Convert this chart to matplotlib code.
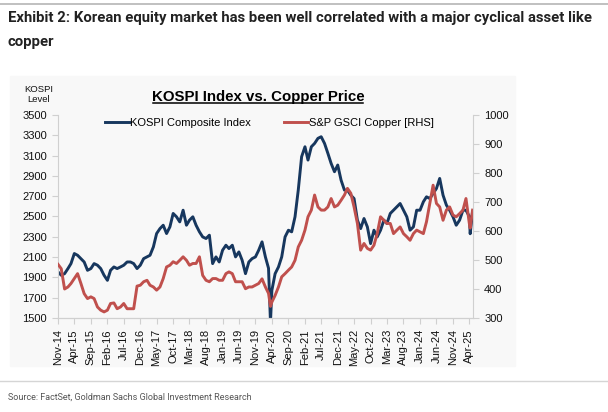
import numpy as np
import pandas as pd
import matplotlib
matplotlib.use('Agg')
import matplotlib.pyplot as plt
from matplotlib.patches import Rectangle
from matplotlib.lines import Line2D

plt.rcParams['font.family'] = ['Liberation Sans', 'DejaVu Sans']

# monthly readings (first of each month), Nov-14 .. May-25
months = pd.date_range('2014-11-01', '2025-05-01', freq='MS')
kospi = [1954, 1921,
         1937, 1987, 2036, 2135, 2118, 2085, 2052, 1970, 1987, 2036, 2020, 1987,
         1921, 1871, 1970, 2003, 1987, 2003, 2020, 2052, 2052, 2036, 1987, 2020,
         2085, 2102, 2118, 2200, 2332, 2381, 2414, 2332, 2398, 2530, 2497, 2447,
         2562, 2414, 2464, 2497, 2414, 2349, 2299, 2283, 2316, 2036, 2102, 2052,
         2168, 2217, 2184, 2217, 2102, 2151, 2069, 1937, 2052, 2085, 2102, 2168,
         2250, 2102, 1990, 1773, 1937, 2003, 2102, 2299, 2365, 2349, 2497, 2760,
         3089, 3187, 3056, 3187, 3220, 3270, 3286, 3220, 3122, 3023, 2941, 3007,
         2858, 2760, 2760, 2710, 2677, 2464, 2381, 2480, 2398, 2233, 2365, 2299,
         2365, 2464, 2431, 2530, 2562, 2595, 2628, 2562, 2497, 2365, 2398, 2562,
         2562, 2645, 2694, 2677, 2727, 2776, 2875, 2710, 2612, 2562, 2497, 2414,
         2464, 2562, 2562, 2500, 2546]
copper = [485, 470,
          400, 407, 419, 436, 453, 419, 384, 367, 373, 367, 338, 327,
          321, 327, 350, 352, 332, 338, 350, 332, 332, 332, 410, 413,
          425, 430, 413, 407, 396, 407, 436, 476, 482, 494, 488, 499,
          511, 499, 482, 488, 488, 511, 447, 430, 425, 436, 436, 430,
          430, 453, 459, 453, 425, 425, 425, 401, 407, 407, 413, 419,
          435, 407, 385, 355, 378, 407, 442, 453, 465, 476, 499, 545,
          568, 603, 649, 672, 724, 683, 672, 672, 683, 712, 683, 689,
          706, 724, 747, 730, 683, 626, 534, 557, 540, 534, 551, 591,
          649, 637, 626, 626, 591, 603, 614, 591, 580, 568, 591, 603,
          597, 591, 632, 695, 758, 695, 683, 637, 672, 683, 655, 649,
          660, 672, 712, 626, 672]

# sharp intra-month moves
extra_dates = pd.to_datetime(['2020-03-19', '2025-04-09'])
extra_kospi = [1457, 2330]
extra_copper = [340, 610]

tick_dates = pd.date_range('2014-11-01', '2025-04-01', freq='5MS')
tick_labels = [d.strftime('%b-%y') for d in tick_dates]

kospi_s = pd.concat([pd.Series(kospi, index=months),
                     pd.Series(extra_kospi, index=extra_dates)]).sort_index()
copper_s = pd.concat([pd.Series(copper, index=months),
                      pd.Series(extra_copper, index=extra_dates)]).sort_index()

blue = '#17375E'
red = '#C0504D'
grid_grey = '#d0d0d0'
W, H = 608, 412

fig = plt.figure(figsize=(W / 100, H / 100), dpi=100)
fig.patches.append(Rectangle((10 / W, 1 - 366 / H), 505 / W, 290 / H,
                             transform=fig.transFigure, color='#f8f8f8', zorder=-10))
fig.add_artist(Line2D([0, 1], [1 - 4 / H] * 2, color='#b5b5b5', lw=1.2))
fig.add_artist(Line2D([0, 1], [1 - 381 / H] * 2, color='#d5d5d5', lw=1.0))

head = ['Roboto', 'Liberation Sans', 'DejaVu Sans']
fig.text(8 / W, 1 - 18 / H,
         'Exhibit 2: Korean equity market has been well correlated with a major cyclical asset like',
         family=head, fontweight='bold', fontsize=10.7, va='center', color='#222222')
fig.text(8 / W, 1 - 42 / H, 'copper', family=head, fontweight='bold',
         fontsize=10.7, va='center', color='#222222')
fig.text(8 / W, 1 - 397 / H, 'Source: FactSet, Goldman Sachs Global Investment Research',
         family=head, fontsize=6.5, va='center', color='#555555')

ax = fig.add_axes([58 / W, 1 - 318 / H, 415 / W, 203 / H])
ax.set_facecolor('none')
ax2 = ax.twinx()

ax.plot(kospi_s.index, kospi_s.values, color=blue, lw=2.1, label='KOSPI Composite Index')
ax2.plot(copper_s.index, copper_s.values, color=red, lw=2.1, label='S&P GSCI Copper [RHS]')

ax.set_xlim(pd.Timestamp('2014-11-01'), pd.Timestamp('2025-05-05'))
ax.set_ylim(1500, 3500)
ax.set_yticks(np.arange(1500, 3501, 200))
ax2.set_ylim(300, 1000)
ax2.set_yticks(np.arange(300, 1001, 100))
ax.set_xticks(tick_dates)
ax.set_xticklabels(tick_labels, rotation=90)

for a in (ax, ax2):
    for s in a.spines.values():
        s.set_color(grid_grey)
    a.spines['top'].set_visible(False)
    a.tick_params(colors=grid_grey, labelcolor='#111111', labelsize=8, length=4, pad=4)
ax2.spines['left'].set_visible(False)
ax.spines['right'].set_visible(False)

fig.text(39 / W, 1 - 89 / H, 'KOSPI', ha='center', va='center', fontsize=6.8, color='#111111')
fig.text(39 / W, 1 - 100 / H, 'Level', ha='center', va='center', fontsize=6.8, color='#111111')

fig.text(258 / W, 1 - 101 / H, 'KOSPI Index vs. Copper Price', ha='center',
         va='baseline', fontsize=10.8, fontweight='bold', color='#000000')
fig.add_artist(Line2D([153 / W, 363 / W], [1 - 103 / H] * 2, color='black', lw=1.1))

h1, l1 = ax.get_legend_handles_labels()
h2, l2 = ax2.get_legend_handles_labels()
ax.legend(h1 + h2, l1 + l2, ncol=2, frameon=False, loc='center left',
          bbox_to_anchor=(0.113, 0.96), borderaxespad=0, borderpad=0,
          handlelength=2.2, handletextpad=0.1, columnspacing=2.9, fontsize=8)

fig.savefig('out.png', dpi=100)
